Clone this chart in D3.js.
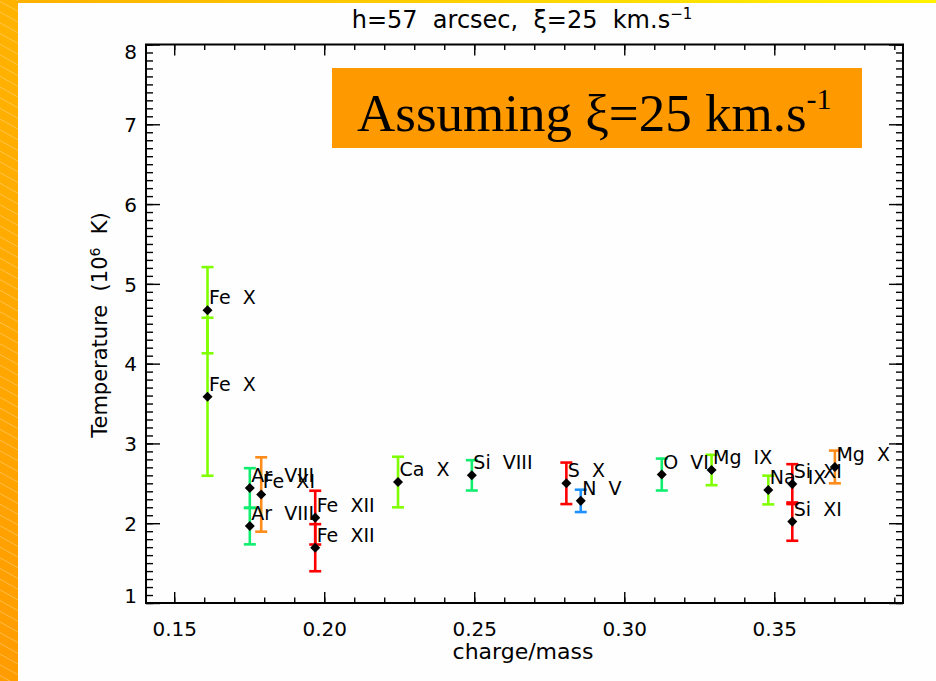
<!DOCTYPE html>
<html>
<head>
<meta charset="utf-8">
<script src="https://cdn.jsdelivr.net/npm/d3@7"></script>
<style>
  html, body { margin: 0; padding: 0; background: #fff; }
  svg { display: block; }
  text { font-family: "DejaVu Sans", sans-serif; fill: #000; }
</style>
</head>
<body>
<svg id="chart" width="936" height="681"></svg>
<script>
// ---------- data ----------
const ions = ["Fe  X","Fe  X","Ar  VIII","Fe  XI","Ar  VIII","Fe  XII","Fe  XII","Ca  X","Si  VIII","S  X","N  V","O  VI","Mg  IX","Na  IX","Si  XI","Si  XI","Mg  X"];
const chargeMass = [0.1611,0.1611,0.1752,0.1790,0.1752,0.1970,0.1970,0.2246,0.2492,0.2807,0.2855,0.3125,0.3291,0.3480,0.3560,0.3560,0.3702];
const temperature = [4.67,3.585,2.44,2.36,1.965,2.07,1.693,2.516,2.60,2.50,2.28,2.61,2.667,2.416,2.49,2.02,2.705];
const tempError = [0.54,0.99,0.25,0.466,0.23,0.337,0.295,0.317,0.19,0.26,0.14,0.20,0.19,0.18,0.25,0.24,0.205];
const barColors = ["#80ff00","#80ff00","#10ee70","#ff8c1a","#10ee70","#ff0000","#ff0000","#80ff00","#10ee70","#ff0000","#1e90ff","#10ee70","#80ff00","#80ff00","#ff0000","#ff0000","#ff8c1a"];
const xTickValues = [0.15,0.20,0.25,0.30,0.35];
const xTickLabels = ["0.15","0.20","0.25","0.30","0.35"];
const yTickValues = [1,2,3,4,5,6,7,8];
const yTickLabels = ["1","2","3","4","5","6","7","8"];
const xDomain = [0.1406, 0.3929];
const yDomain = [1, 8];

// ---------- layout ----------
const W = 936, H = 681;
const plot = {left: 146, right: 903, top: 44.5, bottom: 603};
const svg = d3.select("#chart");

// background decoration
const defs = svg.append("defs");
const gv = defs.append("linearGradient").attr("id","gLeft").attr("x1",0).attr("y1",0).attr("x2",0).attr("y2",1);
gv.append("stop").attr("offset","0%").attr("stop-color","#ffb300");
gv.append("stop").attr("offset","100%").attr("stop-color","#ff9c00");
const gh = defs.append("linearGradient").attr("id","gTop").attr("x1",0).attr("y1",0).attr("x2",1).attr("y2",0);
gh.append("stop").attr("offset","0%").attr("stop-color","#ffb000");
gh.append("stop").attr("offset","100%").attr("stop-color","#fff200");
defs.append("clipPath").attr("id","clipLeft").append("rect").attr("x",0).attr("y",0).attr("width",18).attr("height",H);

svg.append("rect").attr("width",W).attr("height",H).attr("fill","#fefefe");
svg.append("rect").attr("x",0).attr("y",0).attr("width",W).attr("height",3).attr("fill","url(#gTop)");
svg.append("rect").attr("x",0).attr("y",0).attr("width",18).attr("height",H).attr("fill","url(#gLeft)");
const stripes = svg.append("g").attr("clip-path","url(#clipLeft)");
for (let y0 = -20; y0 < H + 20; y0 += 10.7) {
  stripes.append("line").attr("x1",0).attr("y1",y0).attr("x2",18).attr("y2",y0+10)
    .attr("stroke","rgba(255,235,190,0.55)").attr("stroke-width",0.7);
}

// ---------- scales ----------
const x = d3.scaleLinear().domain(xDomain).range([plot.left, plot.right]);
const y = d3.scaleLinear().domain(yDomain).range([plot.bottom, plot.top]);

const xMinor = d3.range(0.14, 0.3951, 0.01).map(v => +v.toFixed(2)).filter(v => v >= xDomain[0] && v <= xDomain[1]);
const yMinor = d3.range(1, 8.001, 0.1).map(v => +v.toFixed(1));

const axesG = svg.append("g");
const sw = 1.4;
function styleAxis(g) {
  g.select(".domain").remove();
  g.selectAll(".tick line").attr("stroke","#000").attr("stroke-width",sw);
}
// bottom
axesG.append("g").attr("transform",`translate(0,${plot.bottom})`)
  .call(d3.axisBottom(x).tickValues(xMinor).tickSize(-5.5).tickFormat("")).call(styleAxis);
const xb = axesG.append("g").attr("transform",`translate(0,${plot.bottom})`)
  .call(d3.axisBottom(x).tickValues(xTickValues).tickSize(-11).tickPadding(19)
    .tickFormat((d,i) => xTickLabels[i])).call(styleAxis);
xb.selectAll(".tick text").attr("font-size",20).attr("font-family","DejaVu Sans").attr("fill","#000");
// top
axesG.append("g").attr("transform",`translate(0,${plot.top})`)
  .call(d3.axisTop(x).tickValues(xMinor).tickSize(-5.5).tickFormat("")).call(styleAxis);
axesG.append("g").attr("transform",`translate(0,${plot.top})`)
  .call(d3.axisTop(x).tickValues(xTickValues).tickSize(-11).tickFormat("")).call(styleAxis);
// left
axesG.append("g").attr("transform",`translate(${plot.left},0)`)
  .call(d3.axisLeft(y).tickValues(yMinor).tickSize(-7).tickFormat("")).call(styleAxis);
const yl = axesG.append("g").attr("transform",`translate(${plot.left},0)`)
  .call(d3.axisLeft(y).tickValues(yTickValues).tickSize(-14).tickPadding(9)
    .tickFormat((d,i) => yTickLabels[i])).call(styleAxis);
yl.selectAll(".tick text").attr("font-size",20).attr("font-family","DejaVu Sans").attr("fill","#000")
  .attr("x",-9)
  .attr("dy", d => d === yDomain[1] ? "0.68em" : (d === yDomain[0] ? "-0.02em" : "0.36em"));
// right
axesG.append("g").attr("transform",`translate(${plot.right},0)`)
  .call(d3.axisRight(y).tickValues(yMinor).tickSize(-7).tickFormat("")).call(styleAxis);
axesG.append("g").attr("transform",`translate(${plot.right},0)`)
  .call(d3.axisRight(y).tickValues(yTickValues).tickSize(-14).tickFormat("")).call(styleAxis);
// frame
svg.append("rect").attr("x",plot.left).attr("y",plot.top)
  .attr("width",plot.right-plot.left).attr("height",plot.bottom-plot.top)
  .attr("fill","none").attr("stroke","#000").attr("stroke-width",2);

// ---------- data marks ----------
const data = ions.map((name,i) => ({name, cm: chargeMass[i], t: temperature[i], e: tempError[i], c: barColors[i]}));
const marks = svg.append("g");
const capW = 6;
const eb = marks.selectAll("g.eb").data(data).join("g").attr("class","eb")
  .attr("stroke", d => d.c).attr("stroke-width",2.6).attr("fill","none");
eb.append("line").attr("x1",d=>x(d.cm)).attr("x2",d=>x(d.cm)).attr("y1",d=>y(d.t-d.e)).attr("y2",d=>y(d.t+d.e));
eb.append("line").attr("x1",d=>x(d.cm)-capW).attr("x2",d=>x(d.cm)+capW).attr("y1",d=>y(d.t+d.e)).attr("y2",d=>y(d.t+d.e));
eb.append("line").attr("x1",d=>x(d.cm)-capW).attr("x2",d=>x(d.cm)+capW).attr("y1",d=>y(d.t-d.e)).attr("y2",d=>y(d.t-d.e));

const diamond = d3.symbol(d3.symbolDiamond2, 64);
marks.selectAll("path.pt").data(data).join("path").attr("class","pt")
  .attr("d", diamond).attr("transform", d => `translate(${x(d.cm)},${y(d.t)})`).attr("fill","#000");

marks.selectAll("text.lab").data(data).join("text").attr("class","lab")
  .attr("x", d => x(d.cm) + 1.5).attr("y", d => y(d.t) - 6)
  .attr("font-size",19).style("white-space","pre").text(d => d.name);

// ---------- titles ----------
const title = svg.append("text").attr("x",522).attr("y",28).attr("text-anchor","middle")
  .attr("font-size",24).style("white-space","pre");
title.append("tspan").text("h=57  arcsec,  ξ=25  km.s");
title.append("tspan").attr("dy",-9).attr("font-size",15).text("−1");

svg.append("text").attr("x",523).attr("y",659).attr("text-anchor","middle")
  .attr("font-size",22).text("charge/mass");

const yLab = svg.append("text").attr("transform","translate(107,325) rotate(-90)")
  .attr("text-anchor","middle").attr("font-size",21).style("white-space","pre");
yLab.append("tspan").text("Temperature  (10");
yLab.append("tspan").attr("dy",-7).attr("font-size",14).text("6");
yLab.append("tspan").attr("dy",7).text("  K)");

// ---------- annotation box ----------
svg.append("rect").attr("x",332).attr("y",68).attr("width",530).attr("height",80).attr("fill","#ff9900");
const ann = svg.append("text").attr("x",357).attr("y",131)
  .style("font-family","'Liberation Serif','Times New Roman',serif").attr("font-size",53);
ann.append("tspan").text("Assuming ξ=25 km.s");
ann.append("tspan").attr("dy",-22).attr("font-size",30).text("-1");
</script>
</body>
</html>
